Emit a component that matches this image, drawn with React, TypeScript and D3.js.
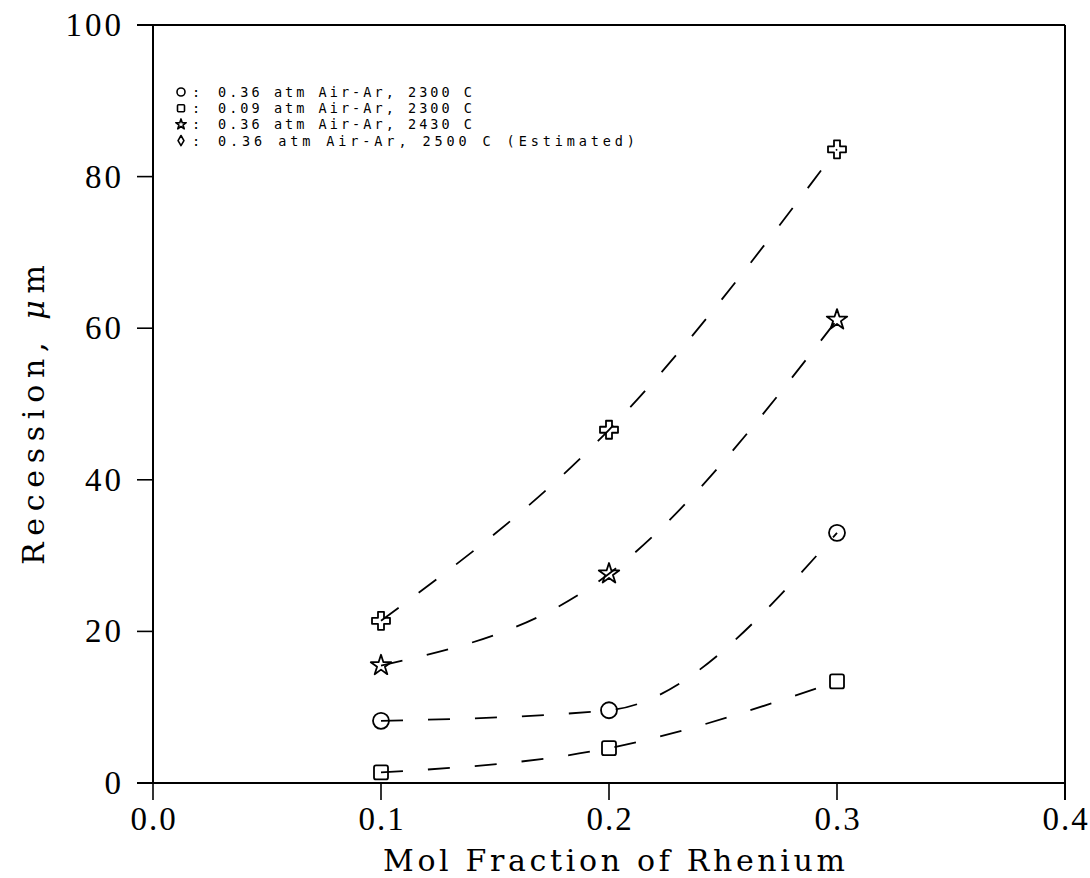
import React from "react";
import * as d3 from "d3";

const xValues = [0.1, 0.2, 0.3];
const seriesCircle = [8.2, 9.6, 33.0];
const seriesSquare = [1.4, 4.6, 13.4];
const seriesStar = [15.5, 27.6, 61.1];
const seriesCross = [21.4, 46.6, 83.6];
const xTicks = [0.0, 0.1, 0.2, 0.3, 0.4];
const yTicks = [0, 20, 40, 60, 80, 100];
const legendLabels = [
  "0.36 atm Air-Ar, 2300 C",
  "0.09 atm Air-Ar, 2300 C",
  "0.36 atm Air-Ar, 2430 C",
  "0.36 atm Air-Ar, 2500 C (Estimated)",
];
const legendMarkers = ["circle", "square", "star", "diamond"];

const W = 1090;
const H = 878;
const L = 153, R = 1065, T = 25, B = 783;

export default function App() {
  const x = d3.scaleLinear().domain([0, 0.4]).range([L, R]);
  const y = d3.scaleLinear().domain([0, 100]).range([B, T]);
  const line = d3
    .line<number>()
    .x((_, i) => x(xValues[i]))
    .y((d) => y(d))
    .curve(d3.curveMonotoneX);

  const series = [
    { vals: seriesCircle, m: "circle" },
    { vals: seriesSquare, m: "square" },
    { vals: seriesStar, m: "star" },
    { vals: seriesCross, m: "cross" },
  ];

  const marker = (m: string, cx: number, cy: number, small: boolean, key: string) => {
    const k = small ? 0.5 : 1;
    const common = { fill: "none", stroke: "#000", strokeWidth: small ? 1.6 : 1.8 } as any;
    if (m === "circle") return <circle key={key} cx={cx} cy={cy} r={8 * k} {...common} />;
    if (m === "square")
      return <rect key={key} x={cx - 7 * k} y={cy - 7 * k} width={14 * k} height={14 * k} rx={2 * k} {...common} />;
    let p: string | null = null;
    if (m === "star") p = d3.symbol().type(d3.symbolStar).size(small ? 34 : 130)();
    if (m === "cross") p = d3.symbol().type(d3.symbolCross).size(small ? 45 : 180)();
    if (m === "diamond") p = d3.symbol().type(d3.symbolDiamond).size(small ? 30 : 100)();
    return <path key={key} d={p || ""} transform={`translate(${cx},${cy})`} {...common} strokeLinejoin="round" />;
  };

  const serif = "'Liberation Serif', 'DejaVu Serif', serif";
  const titleFont = "'DejaVu Serif', 'Liberation Serif', serif";
  const legendFont = "'DejaVu Sans Mono', 'Liberation Mono', monospace";

  return (
    <svg width={W} height={H} style={{ position: "absolute", left: 0, top: 0, background: "#fff" }}>
      <rect x={0} y={0} width={W} height={H} fill="#fff" />
      {/* frame */}
      <line x1={L} y1={T} x2={L} y2={B} stroke="#000" strokeWidth={2} />
      <line x1={L - 16} y1={B} x2={R} y2={B} stroke="#000" strokeWidth={2} />
      <line x1={L - 16} y1={T} x2={R} y2={T} stroke="#000" strokeWidth={2} />
      <line x1={R} y1={T} x2={R} y2={B + 17} stroke="#000" strokeWidth={2} />
      {/* y ticks */}
      {yTicks.map((t) => (
        <g key={"y" + t}>
          <line x1={L - 16} x2={L} y1={y(t)} y2={y(t)} stroke="#000" strokeWidth={1.6} />
          <text x={124} y={y(t) + 11} textAnchor="end" fontFamily={serif} fontSize={33} letterSpacing={3}>
            {t}
          </text>
        </g>
      ))}
      {/* x ticks */}
      {xTicks.map((t) => (
        <g key={"x" + t}>
          <line x1={x(t)} x2={x(t)} y1={B} y2={B + 17} stroke="#000" strokeWidth={1.6} />
          <text x={x(t) + 1} y={830} textAnchor="middle" fontFamily={serif} fontSize={33} letterSpacing={2}>
            {t.toFixed(1)}
          </text>
        </g>
      ))}
      {/* axis titles */}
      <text x={383} y={871} fontFamily={titleFont} fontSize={30} textLength={462} lengthAdjust="spacing">
        Mol Fraction of Rhenium
      </text>
      <text
        transform={`translate(44,565) rotate(-90)`}
        fontFamily={titleFont}
        fontSize={30}
        textLength={300}
        lengthAdjust="spacing"
      >
        Recession, <tspan fontStyle="italic">μ</tspan>m
      </text>
      {/* series */}
      {series.map((s, si) => (
        <g key={"s" + si}>
          <path d={line(s.vals) || ""} fill="none" stroke="#000" strokeWidth={1.8} strokeDasharray="22,25" />
          {s.vals.map((v, i) => marker(s.m, x(xValues[i]), y(v), false, `m${si}-${i}`))}
        </g>
      ))}
      {/* legend */}
      {legendLabels.map((lab, i) => {
        const ly = 92 + i * 16.2;
        return (
          <g key={"l" + i}>
            {marker(legendMarkers[i], 181, ly, true, "lm" + i)}
            <text x={192} y={ly + 5} fontFamily={legendFont} fontSize={13.5}>
              :
            </text>
            <text
              x={218}
              y={ly + 5}
              fontFamily={legendFont}
              fontSize={13.5}
              textLength={i === 3 ? 417 : 254}
              lengthAdjust="spacing"
            >
              {lab}
            </text>
          </g>
        );
      })}
    </svg>
  );
}
